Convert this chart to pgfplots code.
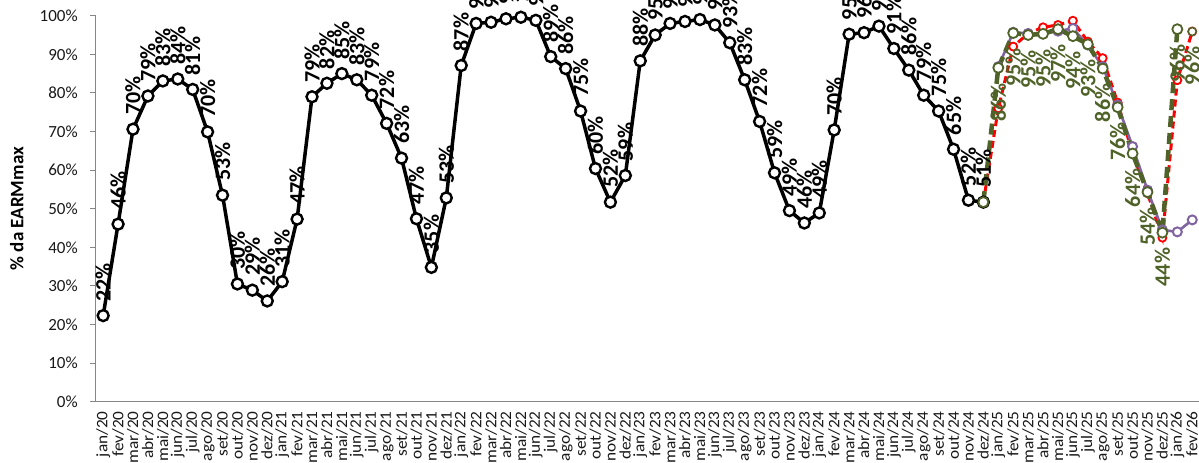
\documentclass[border=0pt]{standalone}
\usepackage{pgfplots}
\pgfplotsset{compat=1.18}
\usepackage{pgfplotstable}
\usepackage{fontspec}
\setmainfont{Carlito}
\newfontfamily\stretched[FakeStretch=1.08]{Carlito}
\definecolor{axgray}{HTML}{868686}
\definecolor{olivegr}{HTML}{4F6228}
\definecolor{purp}{HTML}{8064A2}

\pgfplotstableread{
x y lab
0 22.3 22
1 46.0 46
2 70.6 70
3 79.2 79
4 83.1 83
5 83.6 84
6 80.9 81
7 69.9 70
8 53.5 53
9 30.5 30
10 28.9 29
11 26.1 26
12 31.1 31
13 47.3 47
14 79.0 79
15 82.5 82
16 85.0 85
17 83.4 83
18 79.4 79
19 72.1 72
20 63.1 63
21 47.4 47
22 34.8 35
23 52.8 53
24 87.1 87
25 98.0 98
26 98.3 98
27 99.2 99
28 99.6 100
29 98.8 99
30 89.4 89
31 86.3 86
32 75.3 75
33 60.4 60
34 51.7 52
35 58.6 59
36 88.3 88
37 95.0 95
38 98.0 98
39 98.5 98
40 99.0 99
41 97.6 97
42 93.0 93
43 83.4 83
44 72.6 72
45 59.3 59
46 49.5 49
47 46.3 46
48 48.9 49
49 70.4 70
50 95.2 95
51 95.6 96
52 97.3 97
53 91.5 91
54 85.9 86
55 79.4 79
56 75.3 75
57 65.4 65
58 52.2 52
59 51.7 51
}\histdata

\pgfplotstableread{
x y
59 51.7
60 76.0
61 92.0
62 95.4
63 97.0
64 97.6
65 98.7
66 93.3
67 89.0
68 77.5
69 64.3
70 54.0
71 42.5
72 83.3
73 95.9
}\reddata

\pgfplotstableread{
x y
60 86.8
61 95.7
62 95.4
63 95.3
64 96.0
65 96.7
66 92.4
67 86.8
68 76.9
69 66.1
70 54.8
71 44.5
72 44.0
73 47.1
}\purpdata

\pgfplotstableread{
x y
59 51.7
60 86.5
61 95.5
62 95.0
63 95.3
64 96.5
65 94.7
66 92.6
67 86.3
68 76.3
69 64.3
70 54.3
71 43.8
72 96.5
}\greendata

\pgfplotstableread{
x y lab
60 86.5 86
61 95.5 95
62 95.0 95
63 95.3 95
64 96.5 97
65 94.7 94
66 92.6 93
67 86.3 86
68 76.3 76
69 64.3 64
70 54.3 54
71 43.8 44
72 96.5 96
73 95.9 96
}\greenlabels

\pgfplotstableread{
x y
73 95.9
}\greenextra

\begin{document}
\begin{tikzpicture}
\begin{axis}[
  scale only axis, width=1104pt, height=386pt,
  xmin=-0.5, xmax=73.5, ymin=0, ymax=100,
  axis x line*=bottom, axis y line*=left,
  axis line style={draw=axgray, line width=0.9pt},
  clip=false,
  tick align=outside,
  major tick length=5.5pt,
  ytick={0,10,...,100},
  yticklabels={0\%,10\%,20\%,30\%,40\%,50\%,60\%,70\%,80\%,90\%,100\%},
  ytick style={draw=axgray, line width=0.9pt},
  yticklabel style={font=\fontsize{17}{17}\selectfont, text=black!90, xshift=-9pt},
  xtick={0,...,73},
  xticklabels={jan/20,fev/20,mar/20,abr/20,mai/20,jun/20,jul/20,ago/20,set/20,out/20,nov/20,dez/20,
    jan/21,fev/21,mar/21,abr/21,mai/21,jun/21,jul/21,ago/21,set/21,out/21,nov/21,dez/21,
    jan/22,fev/22,mar/22,abr/22,mai/22,jun/22,jul/22,ago/22,set/22,out/22,nov/22,dez/22,
    jan/23,fev/23,mar/23,abr/23,mai/23,jun/23,jul/23,ago/23,set/23,out/23,nov/23,dez/23,
    jan/24,fev/24,mar/24,abr/24,mai/24,jun/24,jul/24,ago/24,set/24,out/24,nov/24,dez/24,
    jan/25,fev/25,mar/25,abr/25,mai/25,jun/25,jul/25,ago/25,set/25,out/25,nov/25,dez/25,
    jan/26,fev/26},
  xtick style={draw=none},
  xticklabel shift=3pt,
  xticklabel style={rotate=90, anchor=east, font=\stretched\fontsize{16}{16}\selectfont, text=black!90, inner sep=1pt},
  extra x ticks={-0.5,0.5,...,73.5},
  extra x tick labels={},
  extra x tick style={tick style={draw=axgray, line width=0.9pt}},
  every axis y label/.style={at={([xshift=-79pt]axis description cs:0,0.5)}, rotate=90, anchor=center},
  ylabel={\bfseries\% da EARMmax},
  ylabel style={font=\fontsize{19}{19}\selectfont},
]
% historical
\addplot[black, line width=3.5pt, mark=*, mark size=5.5pt,
  mark options={fill=white, draw=black, line width=2.4pt},
  point meta=explicit symbolic,
  nodes near coords={\pgfplotspointmeta\%},
  nodes near coords align={anchor=west},
  every node near coord/.append style={rotate=90, anchor=west, inner xsep=13pt, inner ysep=0pt,
     font=\fontsize{22}{22}\selectfont\bfseries, text=black}]
  table[x=x, y=y, meta=lab]{\histdata};
% red
\addplot[red, line width=3pt, dash pattern=on 7pt off 4pt, mark=*, mark size=4pt,
  mark options={solid, fill=white, draw=red, line width=1.8pt}]
  table[x=x, y=y]{\reddata};
% purple
\addplot[purp, line width=2.6pt, mark=*, mark size=4.5pt,
  mark options={solid, fill=white, draw=purp, line width=2pt}]
  table[x=x, y=y]{\purpdata};
% green
\addplot[olivegr, line width=4.5pt, dash pattern=on 11pt off 6pt, mark=*, mark size=5pt,
  mark options={solid, fill=white, draw=olivegr, line width=1.8pt}]
  table[x=x, y=y]{\greendata};
\addplot[only marks, olivegr, mark=*, mark size=4pt,
  mark options={solid, fill=white, draw=olivegr, line width=1.6pt}]
  table[x=x, y=y]{\greenextra};
% green data labels
\addplot[draw=none, mark=none,
  point meta=explicit symbolic,
  nodes near coords={\pgfplotspointmeta\%},
  nodes near coords align={anchor=east},
  every node near coord/.append style={rotate=90, anchor=east, inner xsep=15pt, inner ysep=0pt,
     font=\fontsize{22}{22}\selectfont\bfseries, text=olivegr}]
  table[x=x, y=y, meta=lab]{\greenlabels};
\coordinate (bl) at (rel axis cs:0,0);
\coordinate (tr) at (rel axis cs:1,1);
\end{axis}
\pgfresetboundingbox
\path[use as bounding box] ([shift={(-95.7pt,-60.3pt)}]bl) rectangle ([shift={(-0.7pt,15.7pt)}]tr);
\end{tikzpicture}
\end{document}
